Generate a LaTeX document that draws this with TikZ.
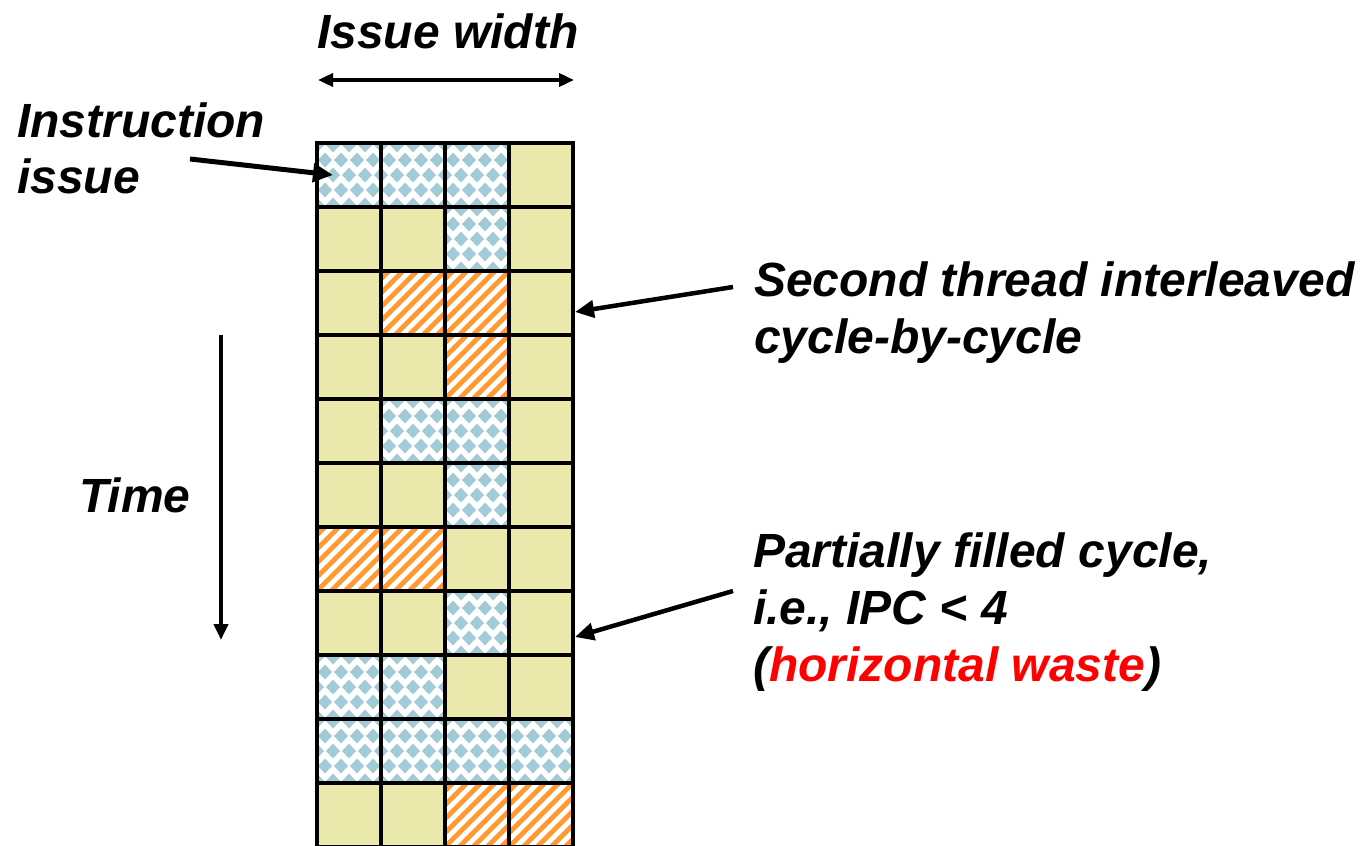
\documentclass[tikz,border=0pt]{standalone}
\usepackage{fontspec}
\setmainfont{Liberation Sans}
\usetikzlibrary{arrows.meta}

\definecolor{cellyellow}{HTML}{EAE8AA}
\definecolor{diamondblue}{HTML}{A2CBD6}
\definecolor{stripeorange}{HTML}{FF9A33}
\definecolor{wastered}{HTML}{FF0000}

\begin{document}
\begin{tikzpicture}[x=1pt, y=-1pt,
  txt/.style={font=\fontsize{48}{57}\selectfont\bfseries\itshape, inner sep=0pt, align=left, anchor=base west},
  slot/.style={draw=black, line width=4.6pt, minimum size=64pt, inner sep=0pt, outer sep=0pt},
  % empty issue slot
  cellY/.style={slot, fill=cellyellow},
  % slot used by the first thread: blue diamond lattice
  cellB/.style={slot, fill=white, path picture={
      \coordinate (pc) at (path picture bounding box.center);
      \foreach \j [evaluate=\j as \off using {mod(abs(\j),2)*8}] in {-3,...,3}
        \foreach \i in {-3,...,3}
          \fill[diamondblue, shift={(pc)}]
            (\i*16+\off-7, \j*15) -- (\i*16+\off, \j*15-7.5)
            -- (\i*16+\off+7, \j*15) -- (\i*16+\off, \j*15+7.5) -- cycle;
    }},
  % slot used by the second thread: orange diagonal stripes
  cellO/.style={slot, fill=white, path picture={
      \coordinate (pc) at (path picture bounding box.center);
      \foreach \k in {-7,...,7}
        \draw[stripeorange, line width=4.8pt, shift={(pc)}]
          (\k*14-45, 45) -- (\k*14+45, -45);
    }},
  pointer/.style={line width=4.5pt, -{Triangle[length=19pt, width=17pt]}},
]
\useasboundingbox (0,0) rectangle (1366,846);

% issue slots: 11 cycles x 4 slots
\foreach \r/\a/\b/\c/\d in {
   1/B/B/B/Y,  2/Y/Y/B/Y,  3/Y/O/O/Y,  4/Y/Y/O/Y,
   5/Y/B/B/Y,  6/Y/Y/B/Y,  7/O/O/Y/Y,  8/Y/Y/B/Y,
   9/B/B/Y/Y, 10/B/B/B/B, 11/Y/Y/O/O}
  \foreach \col/\t in {1/\a, 2/\b, 3/\c, 4/\d}
    \node[cell\t] (c-\r-\col) at (349+64*\col-64, 175+64*\r-64) {};

% issue width
\node[txt] (iw) at (317,48) {Issue width};
\coordinate (iwL) at (318,80);
\coordinate (iwR) at (574,80);
\draw[line width=3.5pt, {Triangle[length=15pt, width=13pt]}-{Triangle[length=15pt, width=13pt]}] (iwL) -- (iwR);

% instruction issue (anchored at the baseline of its last line)
\node[txt, font=\fontsize{48}{56}\selectfont\bfseries\itshape] (ii) at (17,193) {Instruction\\issue};
\coordinate (iiS) at (190,159);
\draw[line width=5pt, -{Triangle[length=20pt, width=18pt]}] (iiS) -- ([xshift=-16pt]c-1-1.center);

% time axis
\node[txt] (time) at (79,512) {Time};
\coordinate (tTop) at (221,335);
\coordinate (tBot) at (221,640);
\draw[line width=4pt, -{Triangle[length=16pt, width=14pt]}] (tTop) -- (tBot);

% second thread
\node[txt] (st) at (754,353) {Second thread interleaved\\cycle-by-cycle};
\coordinate (stS) at (733,287);
\draw[pointer] (stS) -- ([xshift=2pt,yshift=-9pt]c-3-4.east);

% horizontal waste
\node[txt] (pf) at (753,681)
  {Partially filled cycle,\\i.e., IPC < 4\\(\textcolor{wastered}{horizontal waste})};
\coordinate (pfS) at (733,591);
\draw[pointer] (pfS) -- ([xshift=2pt,yshift=-14pt]c-8-4.east);
\end{tikzpicture}
\end{document}
